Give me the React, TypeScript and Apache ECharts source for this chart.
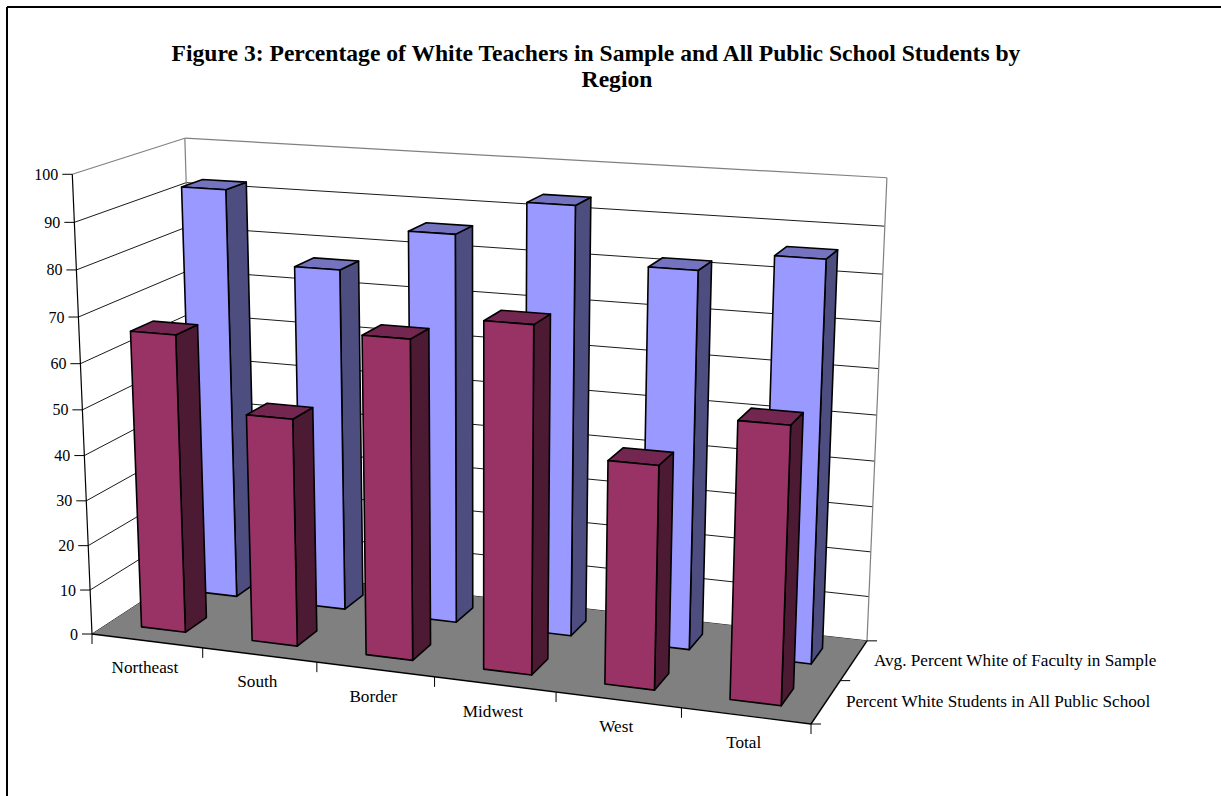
import React, { useEffect, useRef } from "react";
import * as echarts from "echarts";

const titleLines = ["Figure 3: Percentage of White Teachers in Sample and All Public School Students by", "Region"];
const categories = ["Northeast", "South", "Border", "Midwest", "West", "Total"];
const facultyValues = [92.4, 76.6, 86, 93.7, 81.9, 86];
const studentValues = [65.9, 50, 69.1, 74.1, 47.5, 58.1];
const rowNames = ["Percent White Students in All Public School", "Avg. Percent White of Faculty in Sample"];
const valueTicks = [0, 10, 20, 30, 40, 50, 60, 70, 80, 90, 100];

const FONT = '"Liberation Serif", "Times New Roman", serif';
const GRID = { left: 100, top: 100, width: 600, height: 500 };

// Box corners of the 3D scene in the picture
const FL = [92, 634], FR = [811, 724], BR = [867, 640.85], BL = [198, 564.6];
const TOP_FL = [72, 173], TOP_BL = [185, 141], TOP_BR = [887, 176];

function solve(A: number[][], b: number[]) {
  const n = b.length;
  const m = A.map((r, i) => [...r, b[i]]);
  for (let c = 0; c < n; c++) {
    let p = c;
    for (let r = c + 1; r < n; r++) if (Math.abs(m[r][c]) > Math.abs(m[p][c])) p = r;
    [m[c], m[p]] = [m[p], m[c]];
    for (let r = 0; r < n; r++) {
      if (r === c) continue;
      const f = m[r][c] / m[c][c];
      for (let k = c; k <= n; k++) m[r][k] -= f * m[c][k];
    }
  }
  return m.map((r, i) => r[n] / r[i]);
}

function buildCamera() {
  const src = [[0, 0, FL], [1, 0, FR], [1, 1, BR], [0, 1, BL]] as [number, number, number[]][];
  const A: number[][] = [];
  const b: number[] = [];
  src.forEach(([u, v, [x, y]]) => {
    A.push([u, v, 1, 0, 0, 0, -x * u, -x * v]); b.push(x);
    A.push([0, 0, 0, u, v, 1, -y * u, -y * v]); b.push(y);
  });
  const h = solve(A, b);
  const H = [h[0], h[1], h[2], h[3], h[4], h[5], h[6], h[7], 1];
  const tops = [[0, 0, TOP_FL], [0, 1, TOP_BL], [1, 1, TOP_BR]] as [number, number, number[]][];
  const N = [[0, 0, 0], [0, 0, 0], [0, 0, 0]];
  const R = [0, 0, 0];
  const add = (row: number[], val: number) => {
    for (let i = 0; i < 3; i++) {
      for (let j = 0; j < 3; j++) N[i][j] += row[i] * row[j];
      R[i] += row[i] * val;
    }
  };
  tops.forEach(([u, v, [x, y]]) => {
    const h1 = H[0] * u + H[1] * v + H[2];
    const h2 = H[3] * u + H[4] * v + H[5];
    const h3 = H[6] * u + H[7] * v + H[8];
    add([1, 0, -x], x * h3 - h1);
    add([0, 1, -y], y * h3 - h2);
  });
  const [a, bb, c] = solve(N, R);
  return (u: number, v: number, z: number) => {
    const w = H[6] * u + H[7] * v + H[8] + c * z;
    return [
      (H[0] * u + H[1] * v + H[2] + a * z) / w,
      (H[3] * u + H[4] * v + H[5] + bb * z) / w,
    ];
  };
}
const project = buildCamera();

const toZ = (py: number) => (GRID.top + GRID.height - py) / GRID.height;
const toU = (px: number) => (px - GRID.left) / GRID.width;

const txt = (text: string, x: number, y: number, align = "center", font = `17.2px ${FONT}`) => ({
  type: "text", silent: true,
  style: { text, x, y, textAlign: align, textVerticalAlign: "middle", fill: "#000", font },
});
const ln = (a: number[], b: number[], stroke = "#000", lineWidth = 1) => ({
  type: "line", silent: true,
  shape: { x1: a[0], y1: a[1], x2: b[0], y2: b[1] },
  style: { stroke, lineWidth },
});
const poly = (points: number[][], fill: string, stroke = "#000", lineWidth = 1.6) => ({
  type: "polygon", silent: true,
  shape: { points },
  style: { fill, stroke, lineWidth, lineJoin: "round" },
});

// Floor, walls and axis lines, one item per value tick
const renderGrid = (params: any, api: any) => {
  const value = api.value(1);
  const z = toZ(api.coord([0, value])[1]);
  const a = project(0, 0, z), b = project(0, 1, z), c = project(1, 1, z);
  const edge = value === valueTicks[valueTicks.length - 1];
  const color = edge ? "#808080" : "#1a1a1a";
  return {
    type: "group",
    children: [
      ln(a, b, color, edge ? 1.2 : 1),
      ln(b, c, color, edge ? 1.2 : 1),
      ln([a[0] - 10, a[1]], a, "#000", 1),
      txt(String(value), a[0] - 14, a[1], "right", `16px ${FONT}`),
    ],
  };
};

const renderFloor = (params: any, api: any) => {
  const zTop = toZ(api.coord([0, valueTicks[valueTicks.length - 1]])[1]);
  const f0 = project(0, 0, 0), f1 = project(1, 0, 0), b1 = project(1, 1, 0), b0 = project(0, 1, 0);
  const children: any[] = [
    poly([f0, f1, b1, b0], "#808080", "none", 0),
    ln(b0, project(0, 1, zTop), "#808080", 1.2),
    ln(b1, project(1, 1, zTop), "#808080", 1.2),
    ln(f0, project(0, 0, zTop), "#000", 1.2),
    ln(f0, f1, "#000", 1.4),
    ln(f1, b1, "#000", 1.4),
  ];
  for (let i = 0; i <= categories.length; i++) {
    const p = project(i / categories.length, 0, 0);
    children.push(ln(p, [p[0], p[1] + 10], "#000", 1));
  }
  for (let i = 0; i <= rowNames.length; i++) {
    const p = project(1, i / rowNames.length, 0);
    children.push(ln(p, [p[0] + 10, p[1]], "#000", 1));
  }
  return { type: "group", children };
};

const renderCategoryLabel = (params: any, api: any) => {
  const idx = api.value(0);
  const u = toU(api.coord([idx, 0])[0]);
  const p = project(u, 0, 0);
  return txt(categories[idx], p[0] - 2, p[1] + 27);
};

const renderRowLabel = (params: any, api: any) => {
  const idx = api.value(1);
  const p = project(1, (idx + 0.5) / rowNames.length, 0);
  return txt(rowNames[idx], p[0] + 20, p[1], "left");
};

// A bar takes 0.4 of its category's width and 0.4 of its row's depth
const barRenderer = (row: number, front: string, side: string, top: string) => (params: any, api: any) => {
  const c = api.coord([api.value(0), api.value(1)]);
  const band = api.size([1, 0])[0];
  const z = toZ(c[1]);
  const u0 = toU(c[0] - band * 0.2), u1 = toU(c[0] + band * 0.2);
  const v0 = (row + 0.3) / rowNames.length, v1 = (row + 0.7) / rowNames.length;
  const fl0 = project(u0, v0, 0), fr0 = project(u1, v0, 0), br0 = project(u1, v1, 0);
  const fl1 = project(u0, v0, z), fr1 = project(u1, v0, z), br1 = project(u1, v1, z), bl1 = project(u0, v1, z);
  return {
    type: "group",
    children: [
      poly([fr0, br0, br1, fr1], side),
      poly([fl1, fr1, br1, bl1], top),
      poly([fl0, fr0, fr1, fl1], front),
    ],
  };
};

const titleStyle = { fontFamily: FONT, fontWeight: "bold", fontSize: 23.6, color: "#000" };

const App = () => {
  const ref = useRef<HTMLDivElement>(null);
  useEffect(() => {
    const chart = echarts.init(ref.current!, undefined, { renderer: "svg" });
    const base = { type: "custom", silent: true, clip: false, coordinateSystem: "cartesian2d" };
    chart.setOption({
      animation: false,
      backgroundColor: "#fff",
      title: [
        { text: titleLines[0], left: 596, top: 41, textAlign: "center", padding: 0, textStyle: titleStyle },
        { text: titleLines[1], left: 617, top: 67, textAlign: "center", padding: 0, textStyle: titleStyle },
      ],
      grid: GRID,
      xAxis: { type: "category", data: categories, show: false },
      yAxis: { type: "value", min: 0, max: 100, interval: 10, show: false },
      graphic: [
        { type: "line", shape: { x1: 7, y1: 7, x2: 1221, y2: 7 }, style: { stroke: "#000", lineWidth: 2 } },
        { type: "line", shape: { x1: 7, y1: 7, x2: 7, y2: 796 }, style: { stroke: "#000", lineWidth: 2 } },
      ],
      series: [
        { ...base, name: "grid", data: valueTicks.map((v) => [0, v]), renderItem: renderGrid },
        { ...base, name: "floor", data: [[0, 0]], renderItem: renderFloor },
        { ...base, name: "categories", data: categories.map((_, i) => [i, 0]), renderItem: renderCategoryLabel },
        { ...base, name: "rows", data: rowNames.map((_, i) => [0, i]), renderItem: renderRowLabel },
        { ...base, name: rowNames[1], data: facultyValues.map((v, i) => [i, v]), renderItem: barRenderer(1, "#9999FF", "#4D4D80", "#7373BF") },
        { ...base, name: rowNames[0], data: studentValues.map((v, i) => [i, v]), renderItem: barRenderer(0, "#993366", "#4D1A33", "#732650") },
      ],
    });
    return () => chart.dispose();
  }, []);
  return <div ref={ref} style={{ position: "absolute", left: 0, top: 0, width: 1221, height: 796 }} />;
};

export default App;
